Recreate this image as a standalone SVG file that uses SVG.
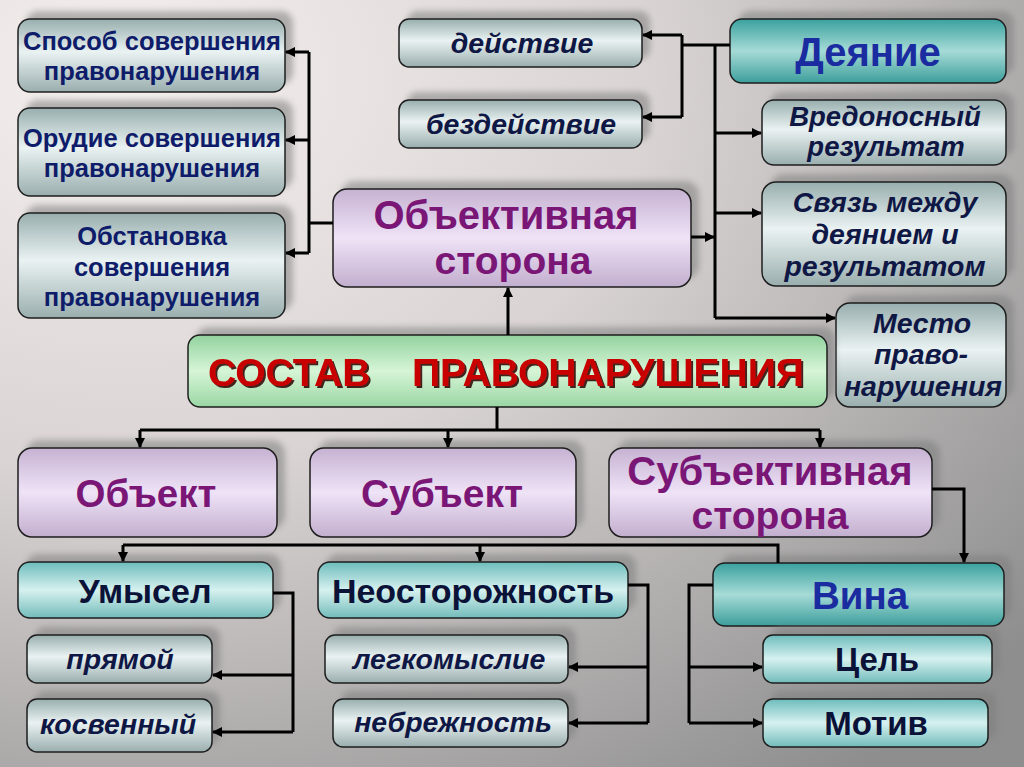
<svg xmlns="http://www.w3.org/2000/svg" width="1024" height="767" viewBox="0 0 1024 767">
<defs>
<radialGradient id="bg" cx="0.12" cy="0.1" r="1.15">
<stop offset="0" stop-color="#f5f0ee"/>
<stop offset="0.45" stop-color="#d9d4d3"/>
<stop offset="1" stop-color="#8e8e8e"/>
</radialGradient>
<linearGradient id="gGrey" x1="0" y1="0" x2="0" y2="1">
<stop offset="0" stop-color="#98aeae"/>
<stop offset="0.45" stop-color="#eaf2f2"/>
<stop offset="1" stop-color="#9aaeae"/>
</linearGradient>
<linearGradient id="gTealD" x1="0" y1="0" x2="0" y2="1">
<stop offset="0" stop-color="#3aa19e"/>
<stop offset="0.5" stop-color="#a6dbd7"/>
<stop offset="1" stop-color="#3c9e9b"/>
</linearGradient>
<linearGradient id="gTeal" x1="0" y1="0" x2="0" y2="1">
<stop offset="0" stop-color="#6dbcbc"/>
<stop offset="0.5" stop-color="#d6f1ef"/>
<stop offset="1" stop-color="#72bcbb"/>
</linearGradient>
<linearGradient id="gPurple" x1="0" y1="0" x2="0" y2="1">
<stop offset="0" stop-color="#c6b2d2"/>
<stop offset="0.5" stop-color="#efe3f7"/>
<stop offset="1" stop-color="#c2aece"/>
</linearGradient>
<linearGradient id="gGreen" x1="0" y1="0" x2="0" y2="1">
<stop offset="0" stop-color="#92d29e"/>
<stop offset="0.5" stop-color="#d6f5d6"/>
<stop offset="1" stop-color="#9ad6a4"/>
</linearGradient>
<filter id="blur" x="-10%" y="-20%" width="120%" height="140%">
<feGaussianBlur stdDeviation="3"/>
</filter>
<filter id="tshadow" x="-5%" y="-20%" width="110%" height="140%">
<feDropShadow dx="2" dy="2" stdDeviation="0.6" flood-color="#2a0000" flood-opacity="0.85"/>
</filter>
<marker id="arr" viewBox="0 0 10 10" refX="9" refY="5" markerWidth="10" markerHeight="10" markerUnits="userSpaceOnUse" orient="auto">
<path d="M0,0 L10,5 L0,10 z" fill="#000"/>
</marker>
</defs>
<style>
.sh{fill:#7d7d7d;opacity:0.55;filter:url(#blur)}
.bx{stroke:#1e1e1e;stroke-width:1.5}
.grey{fill:url(#gGrey)}
.tealD{fill:url(#gTealD)}
.teal{fill:url(#gTeal)}
.purple{fill:url(#gPurple)}
.green{fill:url(#gGreen)}
text{font-family:"Liberation Sans",Arial,sans-serif;font-weight:bold;text-anchor:middle}
.navy{fill:#0e1c6a;font-size:25.5px}
.it{font-style:italic;fill:#0f1745;font-size:28.5px}
.dk{fill:#0b1238}
.blue{fill:#1a2ca0}
.pur{fill:#7a1676}
.red{fill:#c80000}
.cn{fill:none;stroke:#000;stroke-width:3}
.ca{fill:none;stroke:#000;stroke-width:3;marker-end:url(#arr)}
</style>
<rect width="1024" height="767" fill="url(#bg)"/>

<g id="n1">
<rect class="sh" x="26" y="11" width="267" height="73" rx="12"/>
<rect class="bx grey" x="18" y="19" width="267" height="73" rx="12"/>
<text class="navy" x="152" y="50">Способ совершения</text>
<text class="navy" x="152" y="80">правонарушения</text>
</g>
<g id="n2">
<rect class="sh" x="26" y="100" width="267" height="88" rx="12"/>
<rect class="bx grey" x="18" y="108" width="267" height="88" rx="12"/>
<text class="navy" x="152" y="147">Орудие совершения</text>
<text class="navy" x="152" y="177">правонарушения</text>
</g>
<g id="n3">
<rect class="sh" x="26" y="205" width="267" height="105" rx="12"/>
<rect class="bx grey" x="18" y="213" width="267" height="105" rx="12"/>
<text class="navy" x="152" y="245">Обстановка</text>
<text class="navy" x="152" y="276">совершения</text>
<text class="navy" x="152" y="306">правонарушения</text>
</g>
<g id="n4">
<rect class="sh" x="407" y="11" width="243" height="48" rx="10"/>
<rect class="bx grey" x="399" y="19" width="243" height="48" rx="10"/>
<text class="it" x="522" y="53">действие</text>
</g>
<g id="n5">
<rect class="sh" x="407" y="92" width="243" height="48" rx="10"/>
<rect class="bx grey" x="399" y="100" width="243" height="48" rx="10"/>
<text class="it" x="521" y="134">бездействие</text>
</g>
<g id="n6">
<rect class="sh" x="738" y="11" width="276" height="64" rx="12"/>
<rect class="bx tealD" x="730" y="19" width="276" height="64" rx="12"/>
<text class="blue" font-size="40" x="868" y="66">Деяние</text>
</g>
<g id="n7">
<rect class="sh" x="770" y="92" width="244" height="65" rx="12"/>
<rect class="bx grey" x="762" y="100" width="244" height="65" rx="12"/>
<text class="it" style="font-size:27.5px" x="885" y="126">Вредоносный</text>
<text class="it" style="font-size:27.5px" x="886" y="156">результат</text>
</g>
<g id="n8">
<rect class="sh" x="770" y="174" width="244" height="104" rx="14"/>
<rect class="bx grey" x="762" y="182" width="244" height="104" rx="14"/>
<text class="it" x="885" y="212">Связь между</text>
<text class="it" x="885" y="244">деянием и</text>
<text class="it" x="885" y="276">результатом</text>
</g>
<g id="n9">
<rect class="sh" x="844" y="295" width="170" height="104" rx="14"/>
<rect class="bx grey" x="836" y="303" width="170" height="104" rx="14"/>
<text class="it" x="922" y="333">Место</text>
<text class="it" x="921" y="364">право-</text>
<text class="it" x="923" y="396">нарушения</text>
</g>
<g id="n10">
<rect class="sh" x="341" y="181" width="358" height="98" rx="14"/>
<rect class="bx purple" x="333" y="189" width="358" height="98" rx="14"/>
<text class="pur" font-size="40" x="506" y="229">Объективная</text>
<text class="pur" font-size="39" x="513" y="274">сторона</text>
</g>
<g id="n11">
<rect class="sh" x="196" y="327" width="639" height="72" rx="12"/>
<rect class="bx green" x="188" y="335" width="639" height="72" rx="12"/>
<text class="red" font-size="39" y="386" text-anchor="start" style="text-anchor:start" filter="url(#tshadow)"><tspan x="208">СОСТАВ</tspan> <tspan x="412">ПРАВОНАРУШЕНИЯ</tspan></text>
</g>
<g id="n12">
<rect class="sh" x="26" y="440" width="259" height="89" rx="14"/>
<rect class="bx purple" x="18" y="448" width="259" height="89" rx="14"/>
<text class="pur" font-size="38.5" x="146" y="507">Объект</text>
</g>
<g id="n13">
<rect class="sh" x="318" y="440" width="266" height="89" rx="14"/>
<rect class="bx purple" x="310" y="448" width="266" height="89" rx="14"/>
<text class="pur" font-size="39" x="442" y="507">Субъект</text>
</g>
<g id="n14">
<rect class="sh" x="617" y="440" width="323" height="89" rx="14"/>
<rect class="bx purple" x="609" y="448" width="323" height="89" rx="14"/>
<text class="pur" font-size="40" x="770" y="485">Субъективная</text>
<text class="pur" font-size="39" x="770" y="529">сторона</text>
</g>
<g id="n15">
<rect class="sh" x="26" y="554" width="255" height="56" rx="12"/>
<rect class="bx teal" x="18" y="562" width="255" height="56" rx="12"/>
<text class="dk" font-size="34" x="145" y="603">Умысел</text>
</g>
<g id="n16">
<rect class="sh" x="326" y="554" width="310" height="56" rx="12"/>
<rect class="bx teal" x="318" y="562" width="310" height="56" rx="12"/>
<text class="dk" font-size="34" x="473" y="603">Неосторожность</text>
</g>
<g id="n17">
<rect class="sh" x="35" y="627" width="185" height="48" rx="10"/>
<rect class="bx grey" x="27" y="635" width="185" height="48" rx="10"/>
<text class="it" x="120" y="669">прямой</text>
</g>
<g id="n18">
<rect class="sh" x="35" y="691" width="185" height="53" rx="10"/>
<rect class="bx grey" x="27" y="699" width="185" height="53" rx="10"/>
<text class="it" x="118" y="734">косвенный</text>
</g>
<g id="n19">
<rect class="sh" x="333" y="627" width="243" height="48" rx="10"/>
<rect class="bx grey" x="325" y="635" width="243" height="48" rx="10"/>
<text class="it" x="449" y="669">легкомыслие</text>
</g>
<g id="n20">
<rect class="sh" x="341" y="691" width="235" height="48" rx="10"/>
<rect class="bx grey" x="333" y="699" width="235" height="48" rx="10"/>
<text class="it" x="453" y="732">небрежность</text>
</g>
<g id="n21">
<rect class="sh" x="721" y="555" width="291" height="63" rx="12"/>
<rect class="bx tealD" x="713" y="563" width="291" height="63" rx="12"/>
<text class="blue" font-size="38.5" x="860" y="609">Вина</text>
</g>
<g id="n22">
<rect class="sh" x="771" y="627" width="229" height="48" rx="10"/>
<rect class="bx teal" x="763" y="635" width="229" height="48" rx="10"/>
<text class="dk" font-size="33" x="877" y="671">Цель</text>
</g>
<g id="n23">
<rect class="sh" x="771" y="691" width="225" height="48" rx="10"/>
<rect class="bx teal" x="763" y="699" width="225" height="48" rx="10"/>
<text class="dk" font-size="33" x="876" y="735">Мотив</text>
</g>

<g id="connectors">
<path class="cn" d="M333,223 H309 M309,52 V253"/>
<path class="ca" d="M309,52 H286"/>
<path class="ca" d="M309,140 H286"/>
<path class="ca" d="M309,253 H286"/>
<path class="cn" d="M730,45 H682 M682,35 V117 M715,45 V318"/>
<path class="ca" d="M682,35 H643"/>
<path class="ca" d="M682,117 H643"/>
<path class="ca" d="M715,133 H761"/>
<path class="ca" d="M715,213 H761"/>
<path class="ca" d="M715,318 H835"/>
<path class="ca" d="M691,237 H714"/>
<path class="ca" d="M508,335 V288"/>
<path class="cn" d="M497,407 V430 M140,430 H820"/>
<path class="ca" d="M140,430 V447"/>
<path class="ca" d="M448,430 V447"/>
<path class="ca" d="M820,430 V447"/>
<path class="ca" d="M932,489 H964 V562"/>
<path class="cn" d="M778,563 V545 H123"/>
<path class="ca" d="M123,545 V561"/>
<path class="ca" d="M480,545 V561"/>
<path class="cn" d="M273,593 H293 V732"/>
<path class="ca" d="M293,675 H213"/>
<path class="ca" d="M293,732 H213"/>
<path class="cn" d="M628,585 H648 V723"/>
<path class="ca" d="M648,667 H569"/>
<path class="ca" d="M648,723 H569"/>
<path class="cn" d="M713,585 H689 V723"/>
<path class="ca" d="M689,667 H762"/>
<path class="ca" d="M689,723 H762"/>
</g>
</svg>
